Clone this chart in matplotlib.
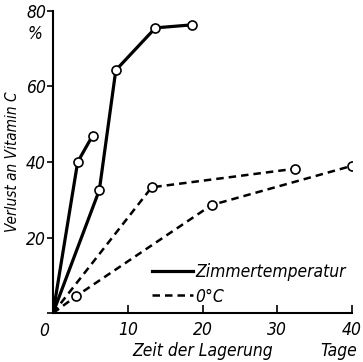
import matplotlib.pyplot as plt

# storage time (days) and vitamin C loss (%)
room_a_days = [0, 3.3, 5.3]
room_a_loss = [0, 40, 47]
room_b_days = [0, 6.2, 8.4, 13.7, 18.6]
room_b_loss = [0, 32.6, 64.3, 75.5, 76.3]
cold_a_days = [0, 13.2, 32.3]
cold_a_loss = [0, 33.3, 38.2]
cold_b_days = [0, 3.1, 21.2, 40]
cold_b_loss = [0, 4.5, 28.6, 39]

xticks = [0, 10, 20, 30, 40]
yticks = [0, 20, 40, 60, 80]

plt.rcParams['font.family'] = 'DejaVu Sans'
plt.rcParams['font.style'] = 'italic'
plt.rcParams['font.stretch'] = 'condensed'
plt.rcParams['font.size'] = 12.5

fig = plt.figure(figsize=(3.63, 3.62), dpi=100)
ax = fig.add_axes([0.146, 0.135, 0.824, 0.835])

mk = dict(marker='o', markersize=6.5, markerfacecolor='white',
          markeredgecolor='black', markeredgewidth=1.2, color='black')
ax.plot(room_a_days, room_a_loss, '-', lw=2.3, markevery=[1, 2], **mk)
ax.plot(room_b_days, room_b_loss, '-', lw=2.3, markevery=[1, 2, 3, 4],
        label='Zimmertemperatur', **mk)
ax.plot(cold_a_days, cold_a_loss, '--', lw=1.8, dashes=(3, 2),
        markevery=[1, 2], **mk)
ax.plot(cold_b_days, cold_b_loss, '--', lw=1.8, dashes=(3, 2),
        markevery=[1, 2, 3], label='0°C', **mk)

ax.set_xlim(0, 40)
ax.set_ylim(0, 80)
ax.set_xticks(xticks)
ax.set_yticks(yticks)
ax.set_xticklabels([''] + [str(t) for t in xticks[1:]])
ax.set_yticklabels([''] + [str(t) for t in yticks[1:]])
ax.spines['top'].set_visible(False)
ax.spines['right'].set_visible(False)
for s in ('left', 'bottom'):
    ax.spines[s].set_linewidth(1.5)
ax.tick_params(axis='x', direction='in', length=6, width=1.2, pad=6)
ax.tick_params(axis='y', direction='out', length=4, width=1.2, pad=1)

ax.text(-0.03, -0.03, '0', transform=ax.transAxes, ha='center', va='top')
ax.text(-0.035, 0.925, '%', transform=ax.transAxes, ha='right', va='center')
ax.text(0.50, -0.125, 'Zeit der Lagerung', transform=ax.transAxes,
        ha='center', va='center')
ax.text(0.955, -0.125, 'Tage', transform=ax.transAxes, ha='center', va='center')
ax.text(-0.135, 0.5, 'Verlust an Vitamin C', transform=ax.transAxes,
        rotation=90, ha='center', va='center', fontsize=11)

leg = ax.legend(loc='lower left', bbox_to_anchor=(0.33, 0.025), frameon=False,
                handlelength=2.4, handletextpad=0.1, labelspacing=0.35,
                borderaxespad=0, borderpad=0)
for h in leg.legend_handles:
    h.set_marker('')

fig.savefig('out.png', dpi=100)
